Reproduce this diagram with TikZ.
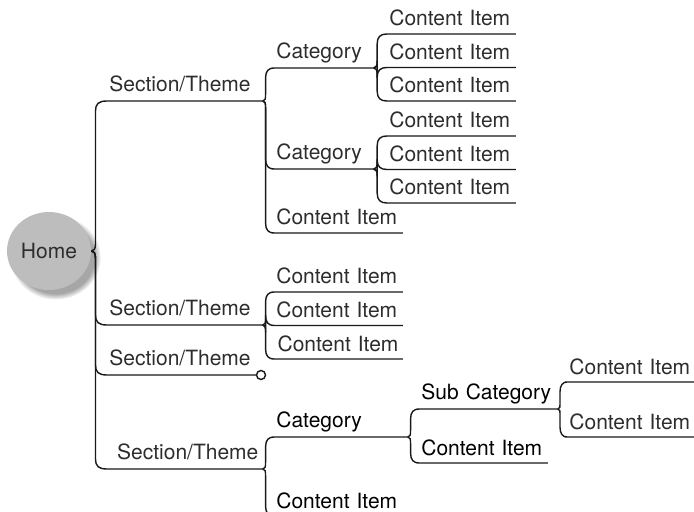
\documentclass[tikz,border=0pt]{standalone}
\usepackage{fontspec}
\setmainfont{TeX Gyre Heros}
\usetikzlibrary{
  positioning,
  calc,
  shadows,
  shapes.geometric
}
\definecolor{homegrey}{RGB}{189,189,190}
\definecolor{textgrey}{RGB}{45,45,45}
\tikzset{
  node distance=16.75pt,
  topic/.style={anchor=south west, font=\fontsize{10.5}{12}\selectfont, text=textgrey,
    align=left, inner xsep=2pt, inner ysep=4.5pt, text depth=0pt},
  section/.style={topic, text width=74.5pt},
  category/.style={topic, text width=46.5pt},
  item/.style={topic, text width=61pt, inner ysep=3.8pt},
  focus/.style={text=black},
  link/.style={draw=black!90, line width=0.7pt, line join=round},
  branch/.style={to path={let \p1=(\tikztostart), \p2=(\tikztotarget),
      \p3=($(\p1)!0.3!(\p2)$), \n1={sign(\y2-\y1)} in
      .. controls ({\x1+1.2pt},\y1) and (\x3,{\y1+\n1*1pt}) .. (\x3,{\y1+\n1*3.5pt})
      -- (\x3,{\y2-\n1*5pt})
      .. controls (\x3,{\y2-\n1*1.5pt}) and ({\x3+1.5pt},\y2) .. ({\x2+1pt},\y2)
      -- (\tikztotarget)}}
}

\begin{document}
\begin{tikzpicture}[x=0.5pt, y=-0.5pt]
    \useasboundingbox (0,0) rectangle (694,512);
    \clip (0,0) rectangle (694,512);

    \node[ellipse, fill=homegrey, inner sep=0pt, minimum width=42pt, minimum height=39pt,
      circular drop shadow={shadow xshift=3pt, shadow yshift=-3pt, shadow scale=1.08, opacity=0.7},
      text=textgrey, font=\fontsize{10.5}{12}\selectfont] (home) at (49,251) {Home};

    \node[section]                   (sec1) at (105,101) {Section/Theme};
    \node[section]                   (sec2) at (105,325) {Section/Theme};
    \node[section, text width=71pt]  (sec3) at (105,375) {Section/Theme};
    \node[section, align=right]      (sec4) at (105,469) {Section/Theme};

    \node[category]                  (cat1) at (272,68)  {Category};
    \node[category]                  (cat2) at (272,169) {Category};
    \node[item]                      (it1)  at (272,233) {Content Item};

    \node[item]                      (it11) at (385,34)  {Content Item};
    \node[item, below of=it11]       (it12)              {Content Item};
    \node[item, below of=it12]       (it13)              {Content Item};

    \node[item]                      (it21) at (385,136) {Content Item};
    \node[item, below of=it21]       (it22)              {Content Item};
    \node[item, below of=it22]       (it23)              {Content Item};

    \node[item]                      (it31) at (272,292) {Content Item};
    \node[item, below of=it31]       (it32)              {Content Item};
    \node[item, below of=it32, align=right] (it33)       {Content Item};

    \node[category, focus, text width=63.5pt] (cat3) at (272,437) {Category};
    \node[item, focus]               (it4)  at (272,516) {Content Item};
    \node[topic, focus, text width=66pt] (sub) at (417,409) {Sub Category};
    \node[item, focus]               (it5)  at (417,463) {Content Item};
    \node[item]                      (it61) at (565,382) {Content Item};
    \node[item]                      (it62) at (565,437) {Content Item};

    \node[circle, draw=black!90, line width=0.7pt, fill=white, inner sep=0pt,
      minimum size=4.5pt, anchor=west] (fold) at (sec3.south east) {};

    \draw[link] (home.east) to[branch] (sec1.south west) -- (sec1.south east);
    \draw[link] (home.east) to[branch] (sec2.south west) -- (sec2.south east);
    \draw[link] (home.east) to[branch] (sec3.south west) -- (fold.west);
    \draw[link] (home.east) to[branch] (sec4.south west) -- (sec4.south east);

    \draw[link] (sec1.south east) to[branch] (cat1.south west) -- (cat1.south east);
    \draw[link] (sec1.south east) to[branch] (cat2.south west) -- (cat2.south east);
    \draw[link] (sec1.south east) to[branch] (it1.south west) -- (it1.south east);

    \draw[link] (cat1.south east) to[branch] (it11.south west) -- (it11.south east);
    \draw[link] (cat1.south east) to[branch] (it12.south west) -- (it12.south east);
    \draw[link] (cat1.south east) to[branch] (it13.south west) -- (it13.south east);

    \draw[link] (cat2.south east) to[branch] (it21.south west) -- (it21.south east);
    \draw[link] (cat2.south east) to[branch] (it22.south west) -- (it22.south east);
    \draw[link] (cat2.south east) to[branch] (it23.south west) -- (it23.south east);

    \draw[link] (sec2.south east) to[branch] (it31.south west) -- (it31.south east);
    \draw[link] (sec2.south east) to[branch] (it32.south west) -- (it32.south east);
    \draw[link] (sec2.south east) to[branch] (it33.south west) -- (it33.south east);

    \draw[link] (sec4.south east) to[branch] (cat3.south west) -- (cat3.south east);
    \draw[link] (sec4.south east) to[branch] (it4.south west) -- (it4.south east);
    \draw[link] (cat3.south east) to[branch] (sub.south west) -- (sub.south east);
    \draw[link] (cat3.south east) to[branch] (it5.south west) -- (it5.south east);
    \draw[link] (sub.south east) to[branch] (it61.south west) -- (it61.south east);
    \draw[link] (sub.south east) to[branch] (it62.south west) -- (it62.south east);
\end{tikzpicture}
\end{document}
